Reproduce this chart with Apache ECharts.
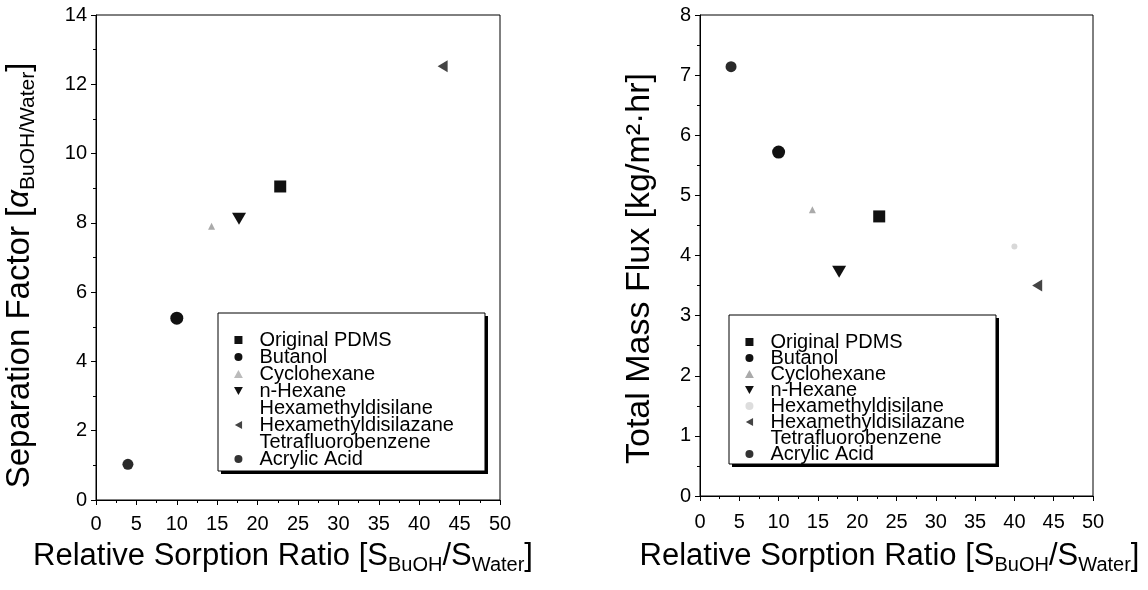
<!DOCTYPE html>
<html>
<head>
<meta charset="utf-8">
<script src="https://cdn.jsdelivr.net/npm/echarts@6/dist/echarts.min.js"></script>
<style>html,body{margin:0;padding:0;background:#fff}#c{width:1148px;height:590px}</style>
</head>
<body>
<div id="c"></div>
<script>
// ---- data ----
const materials = ['Original PDMS', 'Butanol', 'Cyclohexane', 'n-Hexane', 'Hexamethyldisilane', 'Hexamethyldisilazane', 'Tetrafluorobenzene', 'Acrylic Acid'];
const sorptionRatio = [22.8, 10.0, 14.3, 17.7, 40.0, 42.9, null, 3.95];
const separationFactor = [9.05, 5.25, 7.9, 8.12, null, 12.52, null, 1.03];
const totalMassFlux = [4.65, 5.72, 4.76, 3.73, 4.15, 3.5, null, 7.14];
const xTicks = [0, 50, 5];      // min, max, interval
const yTicksLeft = [0, 14, 2];
const yTicksRight = [0, 8, 1];

// ---- styles ----
const SQUARE = 'path://M0,0L10,0L10,10L0,10Z';
const TRI_UP = 'path://M5,0L10,9L0,9Z';
const TRI_DOWN = 'path://M0,0L10,0L5,9Z';
const TRI_LEFT = 'path://M9,0L9,10L0,5Z';
const styles = {
  'Original PDMS':        {symbol: SQUARE,   color: '#111', size: 12, lcolor: '#111', rcolor: '#111'},
  'Butanol':              {symbol: 'circle', color: '#111', size: 13, lcolor: '#111', rcolor: '#111'},
  'Cyclohexane':          {symbol: TRI_UP,   color: '#aaa', size: 7,  lcolor: '#bbb', rcolor: '#aaa'},
  'n-Hexane':             {symbol: TRI_DOWN, color: '#111', size: [14, 12], lcolor: '#111', rcolor: '#111'},
  'Hexamethyldisilane':   {symbol: 'circle', color: '#d8d8d8', size: 6, lcolor: 'rgba(0,0,0,0)', rcolor: '#ddd'},
  'Hexamethyldisilazane': {symbol: TRI_LEFT, color: '#444', size: [10, 12], lcolor: '#444', rcolor: '#444'},
  'Tetrafluorobenzene':   {symbol: 'circle', color: 'rgba(0,0,0,0)', size: 6, lcolor: 'rgba(0,0,0,0)', rcolor: 'rgba(0,0,0,0)'},
  'Acrylic Acid':         {symbol: 'circle', color: '#2a2a2a', size: 11, lcolor: '#333', rcolor: '#333'}
};

const FONT = "'Liberation Sans', Arial, sans-serif";

function axisCommon(range, extra) {
  return Object.assign({
    type: 'value', min: range[0], max: range[1], interval: range[2],
    axisLine: {show: true, lineStyle: {color: '#000', width: 1}},
    axisTick: {show: true, length: 5, lineStyle: {color: '#000'}},
    minorTick: {show: true, splitNumber: 2, length: 3, lineStyle: {color: '#000'}},
    splitLine: {show: false},
    axisLabel: {color: '#000', fontSize: 20, fontFamily: FONT},
    nameTextStyle: {color: '#000', fontFamily: FONT}
  }, extra);
}

function rich(main, sub) {
  return {
    t: {fontSize: main, fontFamily: FONT, color: '#000', lineHeight: main + 6},
    g: {fontSize: main - 2, fontFamily: FONT, color: '#000', lineHeight: main + 6, fontStyle: 'italic'},
    s: {fontSize: sub, fontFamily: FONT, color: '#000', lineHeight: sub, verticalAlign: 'bottom'}
  };
}

const xName = '{t|Relative Sorption Ratio [S}{s|BuOH}{t|/S}{s|Water}{t|]}';

// frameOnly: a twin legend with the same layout that only draws the 1px border
function legendFor(left, top, colorKey, gap, padBottom, frameOnly) {
  const base = {
    orient: 'vertical', left: left, top: top,
    selectedMode: false,
    itemWidth: 32, itemHeight: 8, itemGap: gap,
    padding: [17, 31, padBottom, 16],
    textStyle: {fontSize: 20, fontFamily: FONT, color: frameOnly ? 'rgba(0,0,0,0)' : '#000'},
    data: materials.map(m => ({
      name: m,
      icon: styles[m].symbol,
      itemStyle: {color: frameOnly ? 'rgba(0,0,0,0)' : styles[m][colorKey]},
      textStyle: {color: frameOnly ? 'rgba(0,0,0,0)' : '#000'}
    }))
  };
  if (frameOnly) {
    Object.assign(base, {z: 10, backgroundColor: 'rgba(0,0,0,0)', borderColor: '#000', borderWidth: 1});
  } else {
    Object.assign(base, {z: 4, backgroundColor: '#fff', borderWidth: 0,
      shadowColor: '#000', shadowBlur: 0, shadowOffsetX: 3, shadowOffsetY: 3});
  }
  return base;
}

const series = [];
materials.forEach((m, i) => {
  const st = styles[m];
  series.push({
    name: m, type: 'scatter', xAxisIndex: 0, yAxisIndex: 0,
    symbol: st.symbol, symbolSize: st.size, symbolKeepAspect: false,
    itemStyle: {color: st.color, opacity: 1},
    data: (separationFactor[i] == null || sorptionRatio[i] == null) ? [] : [[sorptionRatio[i], separationFactor[i]]]
  });
  series.push({
    name: m, type: 'scatter', xAxisIndex: 1, yAxisIndex: 1,
    symbol: st.symbol, symbolSize: st.size, symbolKeepAspect: false,
    itemStyle: {color: st.color, opacity: 1},
    data: (totalMassFlux[i] == null || sorptionRatio[i] == null) ? [] : [[sorptionRatio[i], totalMassFlux[i]]]
  });
});

const chart = echarts.init(document.getElementById('c'), null, {renderer: 'canvas'});
chart.setOption({
  animation: false,
  backgroundColor: '#fff',
  grid: [
    {left: 96, top: 15, width: 404, height: 485, show: true, borderColor: '#000', borderWidth: 1, backgroundColor: 'transparent'},
    {left: 700, top: 15, width: 393, height: 481, show: true, borderColor: '#000', borderWidth: 1, backgroundColor: 'transparent'}
  ],
  xAxis: [
    axisCommon(xTicks, {gridIndex: 0, name: xName, nameLocation: 'middle', nameGap: 38,
      nameTextStyle: {rich: rich(31, 20), padding: [0, 30, 0, 0]},
      axisLabel: {color: '#000', fontSize: 20, fontFamily: FONT, margin: 14}}),
    axisCommon(xTicks, {gridIndex: 1, name: xName, nameLocation: 'middle', nameGap: 42,
      nameTextStyle: {rich: rich(31, 20), padding: [0, 14, 0, 0]},
      axisLabel: {color: '#000', fontSize: 20, fontFamily: FONT, margin: 16}})
  ],
  yAxis: [
    axisCommon(yTicksLeft, {gridIndex: 0,
      name: '{t|Separation Factor [}{g|α}{s|BuOH/Water}{t|]}', nameLocation: 'middle', nameGap: 57, nameRotate: 90,
      nameTextStyle: {rich: rich(33, 21), padding: [0, 36, 0, 0]},
      axisLabel: {color: '#000', fontSize: 20, fontFamily: FONT, margin: 9}}),
    axisCommon(yTicksRight, {gridIndex: 1,
      name: '{t|Total Mass Flux [kg/m²·hr]}', nameLocation: 'middle', nameGap: 40, nameRotate: 90,
      nameTextStyle: {rich: rich(34, 21), padding: [0, 26, 0, 0]},
      axisLabel: {color: '#000', fontSize: 20, fontFamily: FONT, margin: 9}})
  ],
  legend: [
    legendFor(218, 313, 'lcolor', -3, 2, false),
    legendFor(729, 315, 'rcolor', -4, 0, false),
    legendFor(218, 313, 'lcolor', -3, 2, true),
    legendFor(729, 315, 'rcolor', -4, 0, true)
  ],
  series: series
});
</script>
</body>
</html>
